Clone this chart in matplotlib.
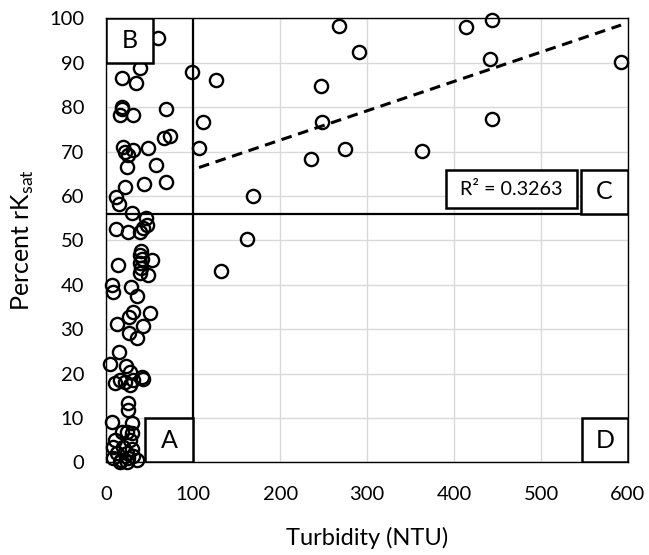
import numpy as np
import matplotlib
matplotlib.use('Agg')
import matplotlib.pyplot as plt
from matplotlib.patches import Rectangle

plt.rcParams['font.family'] = ['Lato', 'DejaVu Sans']

# turbidity (NTU) and percent rKsat
turbidity = [267.8, 290.5, 414, 444, 441, 592, 126, 247, 110.8, 248, 443.7,
             106.6, 274.7, 363.2, 234.9, 169, 161.7, 131.8,
             99, 58.9, 44.5, 38.7, 17.7, 34.1, 17.7, 18.5, 15.7, 31, 68.6,
             18.9, 21.5, 25.3, 31, 48.3, 66.7, 73.2, 23.4, 57.1, 21.5, 43.3,
             68.6, 11.1, 14.6, 29.9, 45.6, 46.4, 10.8, 25.3, 38.7, 42.5,
             40, 39, 40.5, 38.5, 39.5, 39, 52.2, 48.3, 13.8, 6.2, 8, 28.4,
             34.9, 50.2, 31, 26.1, 12, 41.8, 26.4, 34.9, 14.9, 4.3, 22.6,
             27.2, 40.7, 42.5, 15.7, 31, 10, 21.5, 27.2, 25.3, 25.3, 6.2,
             29.2, 17.7, 23.4, 29.2, 10, 27.2, 8, 19.5, 29.2, 12, 23.4, 31,
             8, 17.3, 25.3, 35, 15.7, 24]
rksat = [98.3, 92.5, 98.1, 99.6, 90.8, 90.1, 86, 84.8, 76.6, 76.6, 77.3,
         70.9, 70.5, 70.2, 68.4, 59.9, 50.2, 43.2,
         87.8, 95.6, 92.3, 88.9, 86.5, 85.4, 80.1, 79.6, 78.2, 78.2, 79.6,
         71.1, 70.0, 69.2, 70.4, 70.7, 73.0, 73.5, 66.6, 67.0, 62.1, 62.6,
         63.2, 59.7, 58.2, 56.1, 55.0, 53.4, 52.5, 51.8, 51.8, 52.7,
         47.7, 46.7, 45.7, 44.8, 43.7, 42.6, 45.6, 42.2, 44.4, 39.9, 38.4, 39.4,
         37.5, 33.7, 33.9, 32.8, 31.1, 30.7, 29.2, 27.9, 24.8, 22.1, 21.7,
         20.4, 19.3, 18.7, 18.5, 18.5, 17.8, 18.2, 17.4, 13.3, 11.8, 9.1,
         8.8, 6.9, 6.9, 6.5, 5, 5, 3.5, 3.5, 3.1, 2, 2, 1.5,
         0.9, 0.5, 0.9, 0.5, 0, 0]

turb_cut = 100.
rksat_cut = 56.
trend_slope = 0.0661
trend_icept = 59.35
r2_text = 'R\u00b2 = 0.3263'

# label boxes: (label, x0, y0, width, height) in data units
boxes = [('B', 0, 90, 54, 10), ('A', 45, 0, 55, 10),
         ('C', 546, 56, 54, 9.8), ('D', 547, 0, 53, 10)]

x = np.array(turbidity)
y = np.array(rksat)

fig = plt.figure(figsize=(6.49, 5.55), dpi=100)
ax = fig.add_axes([0.1638, 0.167, 0.8038, 0.800])

ax.grid(True, color='#d9d9d9', lw=1.0)
ax.set_axisbelow(True)

ax.plot(x, y, 'o', mfc='none', mec='black', ms=9.5, mew=1.7, clip_on=False, zorder=4)

# quadrant lines
ax.axvline(turb_cut, color='black', lw=1.6, zorder=3)
ax.axhline(rksat_cut, color='black', lw=1.6, zorder=3)

# trend line for quadrant C
sel = (x > turb_cut) & (y > rksat_cut)
xt = np.array([x[sel].min(), x[sel].max()])
ax.plot(xt, trend_slope*xt + trend_icept, color='black', lw=2.2,
        dashes=(3.5, 2.2), zorder=3)

for lab, x0, y0, w, h in boxes:
    ax.add_patch(Rectangle((x0, y0), w, h, fc='white', ec='black', lw=1.8, zorder=5))
    ax.text(x0 + w/2., y0 + h/2., lab, ha='center', va='center',
            fontsize=18, zorder=6)

ax.add_patch(Rectangle((391, 57.2), 150, 8.6, fc='white', ec='black', lw=1.8, zorder=5))
ax.text(466, 61.5, r2_text, ha='center', va='center', fontsize=14.2, zorder=6)

ax.set_xlim(0., 600.)
ax.set_ylim(0., 100.)
ax.set_xticks(np.arange(0, 601, 100))
ax.set_yticks(np.arange(0, 101, 10))
ax.tick_params(length=0, labelsize=14.5)
ax.tick_params(axis='x', pad=17)
ax.tick_params(axis='y', pad=16)
for sp in ax.spines.values():
    sp.set_color('black')
    sp.set_linewidth(1.0)

ax.set_xlabel('Turbidity (NTU)', fontsize=17)
ax.set_ylabel(r'Percent rK$_{\mathregular{sat}}$', fontsize=18)
ax.xaxis.set_label_coords(0.5, -0.145)
ax.yaxis.set_label_coords(-0.135, 0.5)

fig.savefig('out.png', dpi=100)
